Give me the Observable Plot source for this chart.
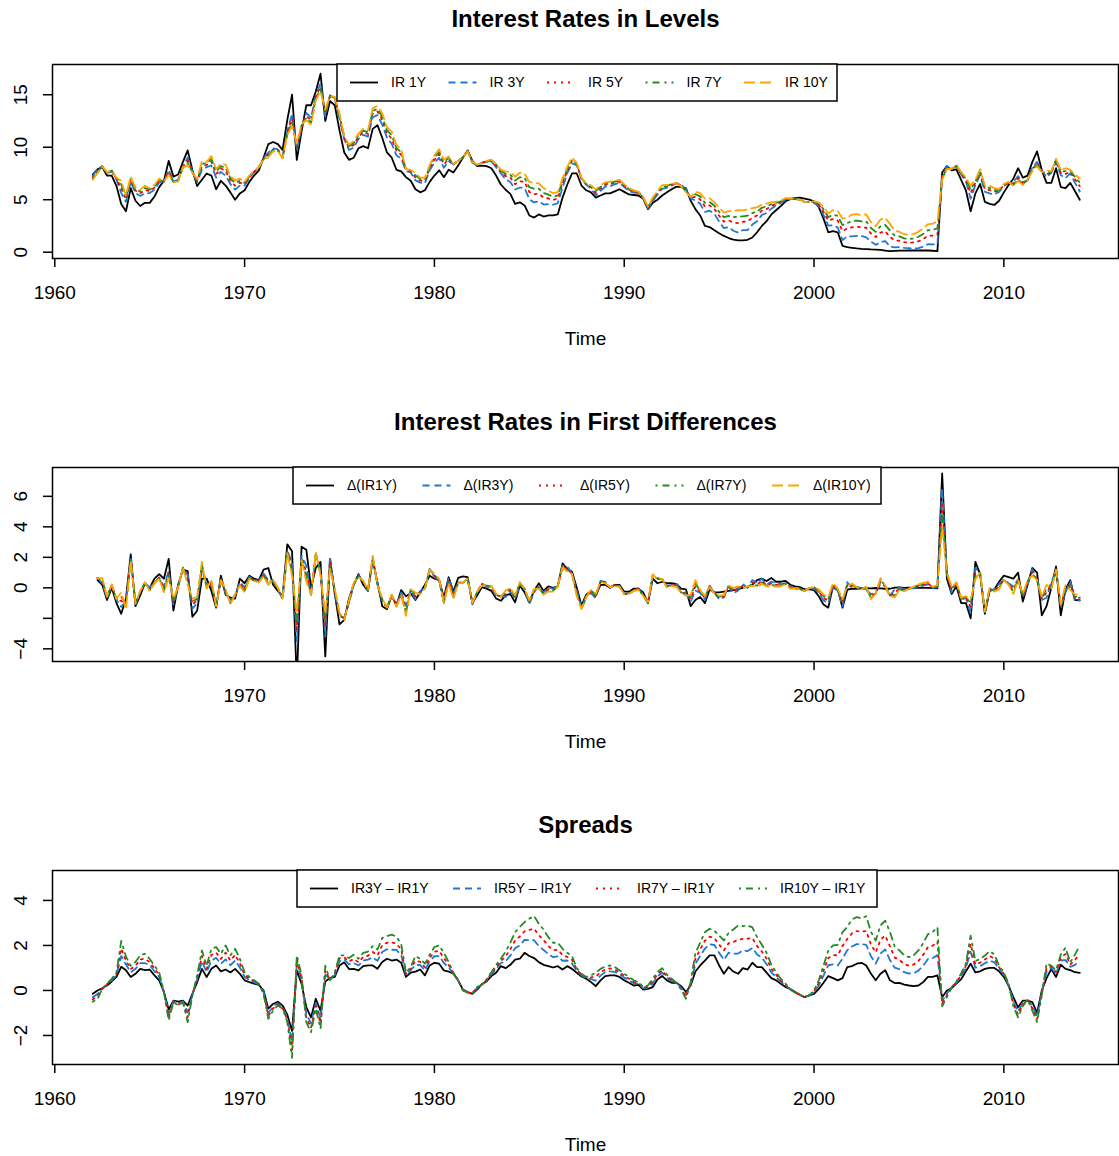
<!DOCTYPE html>
<html><head><meta charset="utf-8">
<script src="https://cdn.jsdelivr.net/npm/d3@7"></script>
<script src="https://cdn.jsdelivr.net/npm/@observablehq/plot@0.6"></script>
<style>
html,body{margin:0;padding:0;background:#fff;}
#chart{width:1119px;}
#chart svg{display:block;}
</style></head><body><div id="chart"></div>
<script>
// quarterly time index (like an R ts with start=1962, frequency=4)
const startYear = 1962, frequency = 4;

// 1-year rate, levels
const ir1y = [
7.4,7.9,8.1,7.3, 7.3,6.3,4.6,3.9, 6.1,4.9,4.4,4.7, 4.7,5.3,6.2,6.8,
8.7,7.2,7.4,8.6, 9.7,7.8,6.3,6.9, 7.5,7.3,6.0,6.8, 6.35,5.7,5.0,5.6,
5.9,6.7,7.3,7.8, 9.0,10.3,10.5,10.3, 9.75,12.6,15.0,8.8, 11.5,14.0,14.0,15.3,
17.0,12.5,14.4,14.0, 11.6,9.5,8.8,9.0, 9.9,10.1,9.9,11.75, 12.1,10.9,9.5,9.0,
7.85,7.7,7.15,6.8, 6.0,5.7,5.9,6.7, 7.3,7.8,7.15,7.85, 7.6,8.25,9.0,9.7,
8.7,8.2,8.25,8.2, 8.0,7.3,6.45,5.95, 5.55,4.6,4.75,4.45, 3.5,3.3,3.6,3.4,
3.5,3.5,3.6,5.2, 6.45,7.5,7.5,6.35, 5.9,5.7,5.2,5.4, 5.6,5.6,5.8,6.0,
5.75,5.5,5.45,5.4, 5.1,4.1,4.7,5.0, 5.4,5.7,6.0,6.25, 6.2,6.1,4.9,4.1,
3.5,2.5,2.4,2.1, 1.8,1.55,1.35,1.2, 1.12,1.12,1.18,1.4, 1.9,2.5,2.95,3.6,
4.0,4.4,4.85,5.05, 5.15,5.2,5.1,5.0, 4.85,4.3,3.2,1.9, 2.0,1.9,0.6,0.48,
0.42,0.36,0.32,0.3, 0.26,0.25,0.22,0.16, 0.1,0.12,0.15,0.15, 0.16,0.16,0.16,0.16,
0.16,0.14,0.1,7.6, 8.2,7.8,7.9,6.9, 5.9,3.9,5.6,6.5, 4.8,4.6,4.5,4.9,
5.7,6.4,7.0,8.0, 7.1,7.3,8.6,9.6, 7.8,6.6,6.6,8.0, 6.2,6.1,6.6,5.8,
5.0];

// spreads over the 1-year rate
const sp3 = [
-0.15,0.0,0.1,0.22, 0.4,0.6,1.05,0.9, 0.6,0.74,0.96,0.9, 0.93,0.67,0.45,-0.07,
-0.85,-0.45,-0.5,-0.45, -0.67,-0.15,0.37,0.96, 0.6,0.96,1.11,0.85, 0.93,0.8,0.96,0.74,
0.45,0.37,0.3,0.25, 0.0,-0.81,-0.6,-0.5, -0.67,-1.08,-1.8,0.9, 0.3,-0.74,-1.2,-0.37,
-0.9,0.4,0.55,0.6, 1.11,1.25,0.95,0.96, 0.89,1.08,1.11,1.11, 0.96,1.26,1.41,1.33,
1.37,1.23,0.6,0.79, 0.84,0.93,0.67,1.11, 1.23,1.19,0.89,0.84, 0.74,0.45,0.04,-0.07,
-0.15,0.04,0.28,0.4, 0.64,0.79,1.08,0.99, 1.14,1.37,1.41,1.67, 1.53,1.44,1.26,1.14,
1.08,1.02,1.08,0.93, 1.08,0.96,0.79,0.62, 0.52,0.37,0.19,0.45, 0.64,0.67,0.67,0.6,
0.45,0.34,0.22,0.25, 0.04,0.07,0.15,0.49, 0.64,0.45,0.34,0.34, 0.19,-0.07,0.22,0.84,
1.11,1.33,1.56,1.56, 1.11,0.74,1.04,0.84, 0.74,0.99,0.93,1.23, 1.04,1.04,0.79,0.55,
0.45,0.3,0.15,0.07, -0.07,-0.19,-0.3,-0.22, -0.15,0.07,0.34,0.64, 0.55,0.45,0.55,1.04,
1.08,1.19,1.23,1.11, 0.74,0.45,0.74,0.9, 0.45,0.33,0.34,0.26, 0.22,0.19,0.22,0.37,
0.6,0.6,0.67,-0.3, 0.0,0.1,0.3,0.5, 0.85,1.19,0.8,0.85, 0.96,1.0,1.0,0.85,
0.6,0.2,-0.3,-0.75, -0.45,-0.45,-0.52,-1.0, 0.0,0.55,0.95,0.6, 1.15,0.96,0.9,0.81,
0.78];

const sp5 = [
-0.30,-0.16,0.09,0.25, 0.45,0.68,1.53,1.15, 0.81,0.96,1.21,1.21, 1.13,0.85,0.60,-0.07,
-1.05,-0.48,-0.57,-0.48, -0.98,-0.18,0.50,1.30, 0.81,1.33,1.45,1.18, 1.38,1.12,1.33,1.02,
0.60,0.47,0.36,0.27, -0.06,-1.00,-0.72,-0.57, -0.73,-1.21,-2.30,1.18, 0.46,-1.02,-1.47,-0.55,
-1.24,0.69,0.51,0.68, 1.30,1.38,1.16,1.22, 1.11,1.33,1.37,1.47, 1.32,1.71,1.83,1.81,
1.80,1.58,0.68,0.90, 1.13,1.13,0.89,1.31, 1.52,1.53,1.22,1.02, 0.76,0.45,0.02,-0.08,
-0.13,0.09,0.27,0.44, 0.71,0.94,1.22,1.30, 1.55,1.88,2.00,2.25, 2.23,2.23,1.97,1.80,
1.62,1.48,1.52,1.32, 1.33,1.20,0.87,0.67, 0.55,0.50,0.44,0.66, 0.82,0.85,0.83,0.73,
0.57,0.45,0.32,0.30, 0.09,0.13,0.31,0.62, 0.79,0.56,0.42,0.34, 0.13,-0.20,0.28,1.19,
1.53,1.86,2.06,2.02, 1.67,1.36,1.68,1.63, 1.64,1.78,1.75,1.89, 1.60,1.46,1.16,0.80,
0.60,0.39,0.21,0.06, -0.08,-0.19,-0.30,-0.22, -0.09,0.23,0.66,1.12, 1.16,1.11,1.41,1.79,
1.95,2.06,2.06,2.03, 1.52,1.19,1.64,1.82, 1.35,1.01,0.94,0.81, 0.75,0.77,0.88,1.10,
1.40,1.44,1.57,-0.47, -0.13,0.12,0.34,0.61, 1.00,1.72,1.01,1.08, 1.21,1.32,1.25,0.96,
0.68,0.24,-0.47,-0.94, -0.56,-0.43,-0.68,-1.17, -0.08,0.82,1.01,0.73, 1.34,1.35,1.05,1.14,
1.29];

const sp7 = [
-0.40,-0.26,0.08,0.28, 0.48,0.74,1.86,1.32, 0.95,1.10,1.38,1.41, 1.26,0.97,0.70,-0.07,
-1.19,-0.50,-0.62,-0.50, -1.19,-0.20,0.58,1.53, 0.96,1.58,1.68,1.40, 1.68,1.33,1.58,1.21,
0.70,0.53,0.41,0.29, -0.11,-1.13,-0.80,-0.62, -0.77,-1.30,-2.64,1.36, 0.56,-1.21,-1.66,-0.68,
-1.46,0.89,0.48,0.74, 1.43,1.47,1.29,1.40, 1.25,1.49,1.54,1.71, 1.56,2.01,2.12,2.14,
2.08,1.82,0.73,0.97, 1.32,1.27,1.03,1.45, 1.72,1.76,1.44,1.13, 0.78,0.45,0.01,-0.09,
-0.12,0.12,0.26,0.46, 0.76,1.04,1.31,1.51, 1.83,2.22,2.40,2.63, 2.69,2.75,2.45,2.24,
1.98,1.79,1.81,1.57, 1.49,1.36,0.93,0.70, 0.58,0.58,0.61,0.81, 0.93,0.98,0.93,0.81,
0.65,0.52,0.38,0.33, 0.12,0.18,0.41,0.71, 0.89,0.63,0.47,0.34, 0.09,-0.28,0.33,1.42,
1.82,2.21,2.39,2.32, 2.04,1.78,2.10,2.15, 2.25,2.30,2.30,2.33, 1.97,1.73,1.41,0.96,
0.70,0.45,0.26,0.05, -0.09,-0.19,-0.30,-0.22, -0.05,0.34,0.88,1.44, 1.57,1.56,1.98,2.29,
2.54,2.64,2.61,2.64, 2.04,1.69,2.25,2.44, 1.96,1.46,1.35,1.17, 1.10,1.15,1.31,1.58,
1.93,1.99,2.17,-0.58, -0.21,0.14,0.37,0.68, 1.10,2.07,1.15,1.24, 1.37,1.53,1.42,1.03,
0.74,0.27,-0.58,-1.07, -0.63,-0.42,-0.79,-1.28, -0.14,1.01,1.06,0.81, 1.47,1.62,1.15,1.36,
1.63];

const sp10 = [
-0.5,-0.37,0.07,0.3, 0.52,0.8,2.2,1.5, 1.1,1.26,1.56,1.63, 1.4,1.1,0.81,-0.07,
-1.33,-0.52,-0.67,-0.52, -1.41,-0.22,0.67,1.78, 1.11,1.85,1.93,1.63, 2.0,1.56,1.85,1.41,
0.81,0.6,0.45,0.3, -0.15,-1.26,-0.89,-0.67, -0.81,-1.4,-3.0,1.56, 0.67,-1.41,-1.85,-0.81,
-1.7,1.1,0.45,0.8, 1.56,1.56,1.44,1.59, 1.41,1.67,1.73,1.97, 1.82,2.33,2.42,2.48,
2.39,2.07,0.79,1.04, 1.53,1.41,1.19,1.59, 1.93,2.0,1.67,1.26, 0.79,0.45,0.0,-0.1,
-0.1,0.15,0.25,0.49, 0.81,1.14,1.41,1.73, 2.12,2.59,2.82,3.04, 3.19,3.31,2.96,2.71,
2.37,2.12,2.12,1.85, 1.67,1.53,0.99,0.74, 0.6,0.67,0.79,0.96, 1.06,1.11,1.04,0.9,
0.74,0.6,0.45,0.37, 0.15,0.22,0.52,0.81, 0.99,0.7,0.52,0.34, 0.04,-0.37,0.37,1.67,
2.12,2.59,2.74,2.65, 2.44,2.22,2.56,2.71, 2.89,2.86,2.89,2.8, 2.37,2.03,1.67,1.14,
0.81,0.52,0.3,0.04, -0.1,-0.19,-0.3,-0.22, 0.0,0.45,1.11,1.78, 2.0,2.03,2.59,2.82,
3.16,3.26,3.2,3.3, 2.6,2.22,2.89,3.1, 2.6,1.95,1.78,1.56, 1.48,1.56,1.78,2.1,
2.5,2.59,2.81,-0.7, -0.3,0.15,0.4,0.75, 1.2,2.44,1.3,1.4, 1.55,1.75,1.6,1.1,
0.8,0.3,-0.7,-1.2, -0.7,-0.4,-0.9,-1.4, -0.2,1.2,1.1,0.9, 1.6,1.9,1.25,1.6,
2.0];

// labels and ticks
const titles = ["Interest Rates in Levels", "Interest Rates in First Differences", "Spreads"];
const levelNames = ["IR 1Y", "IR 3Y", "IR 5Y", "IR 7Y", "IR 10Y"];
const diffNames = ["\u0394(IR1Y)", "\u0394(IR3Y)", "\u0394(IR5Y)", "\u0394(IR7Y)", "\u0394(IR10Y)"];
const spreadNames = ["IR3Y \u2013 IR1Y", "IR5Y \u2013 IR1Y", "IR7Y \u2013 IR1Y", "IR10Y \u2013 IR1Y"];
const xTicksFull = [1960, 1970, 1980, 1990, 2000, 2010];
const xTicksDiff = [1970, 1980, 1990, 2000, 2010];
const yTicksLevels = [0, 5, 10, 15];
const yTicksDiff = [-4, -2, 0, 2, 4, 6];
const yLabelsDiff = [-4, 0, 2, 4, 6];
const yTicksSpread = [-2, 0, 2, 4];
const xAxisTitle = "Time";

// styles
const colors = ["#000000", "#1f78d1", "#ff0000", "#228b22", "#ffa500"];
const dashes = [null, "7,5", "2,5", "2,5,7,5", "11,5"];
const FONT = "'Liberation Sans', Arial, Helvetica, sans-serif";

// ---- derived series ----
const n = Math.min(ir1y.length, sp3.length, sp5.length, sp7.length, sp10.length);
const dateAt = i => startYear + i / frequency;
const levelSeries = [
  ir1y.slice(0, n),
  ir1y.slice(0, n).map((v, i) => v + sp3[i]),
  ir1y.slice(0, n).map((v, i) => v + sp5[i]),
  ir1y.slice(0, n).map((v, i) => v + sp7[i]),
  ir1y.slice(0, n).map((v, i) => v + sp10[i])
];
const toRows = arr => arr.map((v, i) => ({date: dateAt(i), value: v}));
const levelRows = levelSeries.map(toRows);
const diffRows = levelSeries.map(arr => arr.slice(1).map((v, i) => ({date: dateAt(i + 1), value: v - arr[i]})));
const spreadRows = [sp3, sp5, sp7, sp10].map(a => toRows(a.slice(0, n)));

const fmt = d => d < 0 ? "\u2212" + Math.abs(d) : String(d);

function panel({title, rows, yDomain, yTicks, yLabels, xTicks, height, legend}) {
  const marks = [];
  rows.forEach((r, k) => {
    const o = {x: "date", y: "value", stroke: colors[k], strokeWidth: 1.8, clip: true, strokeLinejoin: "round"};
    if (dashes[k]) o.strokeDasharray = dashes[k];
    marks.push(Plot.line(r, o));
  });
  marks.push(Plot.frame({stroke: "black", strokeWidth: 1.5}));
  marks.push(Plot.axisX(xTicks, {tickSize: 9, tickFormat: () => "", label: null, strokeWidth: 1.5}));
  marks.push(Plot.text(xTicks, {x: d => d, text: d => String(d), frameAnchor: "bottom", dy: 34, fontSize: 19, lineAnchor: "middle"}));
  marks.push(Plot.axisY(yTicks, {tickSize: 9, tickFormat: () => "", label: null, strokeWidth: 1.5}));
  marks.push(Plot.text(yLabels, {y: d => d, text: fmt, frameAnchor: "left", dx: -32, rotate: -90, fontSize: 19, textAnchor: "middle", lineAnchor: "middle"}));
  marks.push(Plot.text([title], {frameAnchor: "top", dy: -45, fontSize: 24, fontWeight: "bold", lineAnchor: "middle"}));
  marks.push(Plot.text([xAxisTitle], {frameAnchor: "bottom", dy: 80, fontSize: 19, lineAnchor: "middle"}));
  const svg = Plot.plot({
    width: 1119, height,
    marginLeft: 52, marginRight: 1, marginTop: 64, marginBottom: height - 258,
    x: {domain: [1959.879, 2016.04], label: null},
    y: {domain: yDomain, label: null},
    style: {fontFamily: FONT, color: "black", background: "white", overflow: "visible"},
    marks
  });
  // legend box (drawn inside the plot area, top centre)
  const g = d3.select(svg).append("g").attr("font-family", FONT).attr("text-anchor", "start");
  g.append("rect").attr("x", legend.x0).attr("y", 64).attr("width", legend.width).attr("height", 37)
    .attr("fill", "white").attr("stroke", "black").attr("stroke-width", 1.5);
  legend.names.forEach((name, k) => {
    const lx = legend.first + k * legend.spacing;
    const ln = g.append("line").attr("x1", lx).attr("x2", lx + 28).attr("y1", 82.5).attr("y2", 82.5)
      .attr("stroke", colors[k]).attr("stroke-width", 1.8);
    if (dashes[k]) ln.attr("stroke-dasharray", dashes[k]);
    g.append("text").attr("x", lx + 41).attr("y", 82.5).attr("dy", "0.35em")
      .attr("text-anchor", "start").attr("font-size", 14).attr("fill", "black").text(name);
  });
  return svg;
}

const root = document.getElementById("chart");
root.appendChild(panel({
  title: titles[0], rows: levelRows, yDomain: [-0.6, 17.88], yTicks: yTicksLevels, yLabels: yTicksLevels,
  xTicks: xTicksFull, height: 403,
  legend: {x0: 337, width: 500, first: 350, spacing: 98.5, names: levelNames}
}));
root.appendChild(panel({
  title: titles[1], rows: diffRows, yDomain: [-4.83, 7.89], yTicks: yTicksDiff, yLabels: yLabelsDiff,
  xTicks: xTicksDiff, height: 403,
  legend: {x0: 293, width: 588, first: 306, spacing: 116.5, names: diffNames}
}));
root.appendChild(panel({
  title: titles[2], rows: spreadRows, yDomain: [-3.29, 5.33], yTicks: yTicksSpread, yLabels: yTicksSpread,
  xTicks: xTicksFull, height: 350,
  legend: {x0: 297, width: 580, first: 310, spacing: 143, names: spreadNames}
}));
</script></body></html>
